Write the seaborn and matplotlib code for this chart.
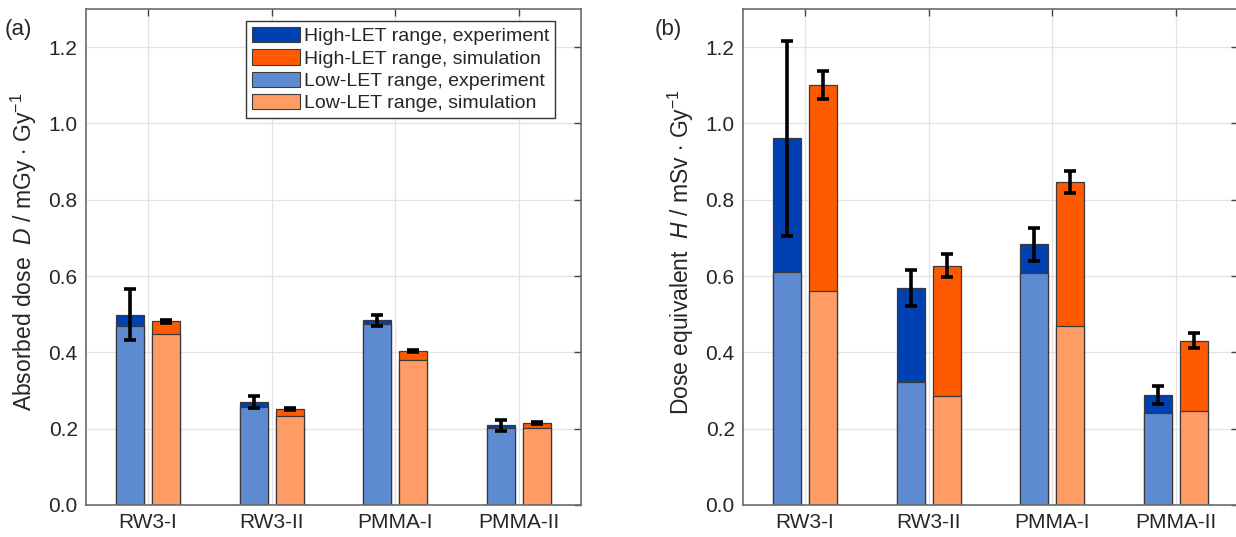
import pandas as pd
import matplotlib
matplotlib.use("Agg")
import matplotlib.pyplot as plt
from matplotlib.patches import Patch
from matplotlib.ticker import FormatStrFormatter
import seaborn as sns

# datos
materials = ["RW3-I", "RW3-II", "PMMA-I", "PMMA-II"]

D_exp_total = [0.499, 0.270, 0.484, 0.209]
D_exp_low = [0.470, 0.257, 0.475, 0.203]
D_exp_err = [0.066, 0.016, 0.015, 0.015]
D_sim_total = [0.481, 0.252, 0.404, 0.214]
D_sim_low = [0.447, 0.233, 0.380, 0.201]
D_sim_err = [0.004, 0.003, 0.003, 0.003]

H_exp_total = [0.961, 0.568, 0.683, 0.289]
H_exp_low = [0.610, 0.323, 0.608, 0.241]
H_exp_err = [0.256, 0.047, 0.044, 0.024]
H_sim_total = [1.100, 0.627, 0.847, 0.431]
H_sim_low = [0.562, 0.286, 0.468, 0.246]
H_sim_err = [0.037, 0.030, 0.029, 0.020]

legend_labels = ["High-LET range, experiment", "High-LET range, simulation",
                 "Low-LET range, experiment", "Low-LET range, simulation"]

dark_pal = ["#0041B2", "#FF5A00"]
light_pal = ["#5E8AD2", "#FF9C66"]

sns.set_style("whitegrid")
plt.rcParams["font.family"] = ["Liberation Sans", "DejaVu Sans"]
plt.rcParams["mathtext.fontset"] = "custom"
plt.rcParams["mathtext.rm"] = "Liberation Sans"
plt.rcParams["mathtext.it"] = "Liberation Sans:italic"


def make_df(exp_total, exp_low, sim_total, sim_low):
    rows = []
    for i, m in enumerate(materials):
        rows.append({"material": m, "source": "experiment", "total": exp_total[i], "low": exp_low[i]})
        rows.append({"material": m, "source": "simulation", "total": sim_total[i], "low": sim_low[i]})
    return pd.DataFrame(rows)


def stacked_panel(ax, df, exp_err, sim_err, ylabel):
    kw = dict(x="material", hue="source", hue_order=["experiment", "simulation"],
              order=materials, width=0.58, gap=0.22, edgecolor="#3a3a3a",
              linewidth=0.9, legend=False, ax=ax, saturation=1)
    sns.barplot(data=df, y="total", palette=dark_pal, **kw)
    sns.barplot(data=df, y="low", palette=light_pal, **kw)

    # barras de error sobre el total
    for cont, err, tot in zip(ax.containers[:2], [exp_err, sim_err],
                              [df[df.source == "experiment"].total, df[df.source == "simulation"].total]):
        xs = [b.get_x() + b.get_width() / 2 for b in cont]
        ax.errorbar(xs, list(tot), yerr=err, fmt="none", ecolor="black",
                    elinewidth=2.6, capsize=4, capthick=2.6, zorder=5)

    ax.set_xlim(-0.5, 3.5)
    ax.set_ylim(0, 1.3)
    ax.set_yticks([0, 0.2, 0.4, 0.6, 0.8, 1.0, 1.2])
    ax.yaxis.set_major_formatter(FormatStrFormatter("%.1f"))
    ax.set_xlabel("")
    ax.set_ylabel(ylabel, fontsize=16.5)
    ax.yaxis.set_label_coords(-0.094, 0.51)
    ax.grid(True, axis="both", color="#e3e3e3", linewidth=0.9)
    ax.set_axisbelow(True)
    ax.tick_params(direction="in", top=True, right=True, length=5, width=1,
                   color="#444444", labelsize=15, pad=6)
    for s in ax.spines.values():
        s.set_color("#6b6b6b")
        s.set_linewidth(1.2)


fig = plt.figure(figsize=(12.36, 5.37), dpi=100)
ax_a = fig.add_axes([0.0696, 0.0596, 0.4005, 0.9236])
ax_b = fig.add_axes([0.6011, 0.0596, 0.4005, 0.9236])

stacked_panel(ax_a, make_df(D_exp_total, D_exp_low, D_sim_total, D_sim_low),
              D_exp_err, D_sim_err, r"Absorbed dose  $\mathit{D}$ / mGy $\cdot$ Gy$^{-1}$")
stacked_panel(ax_b, make_df(H_exp_total, H_exp_low, H_sim_total, H_sim_low),
              H_exp_err, H_sim_err, r"Dose equivalent  $\mathit{H}$ / mSv $\cdot$ Gy$^{-1}$")

handles = [Patch(facecolor=c, edgecolor="#3a3a3a", linewidth=0.8)
           for c in dark_pal + light_pal]
leg = ax_a.legend(handles, legend_labels, loc="upper right", bbox_to_anchor=(0.948, 0.976),
                  fontsize=14, fancybox=False, framealpha=1, edgecolor="#333333",
                  handlelength=2.5, handleheight=0.85, labelspacing=0.2,
                  handletextpad=0.2, borderpad=0.3, borderaxespad=0)
leg.get_frame().set_linewidth(1.0)

fig.text(0.004, 0.935, "(a)", fontsize=16)
fig.text(0.530, 0.935, "(b)", fontsize=16)

fig.savefig("out.png", dpi=100)
